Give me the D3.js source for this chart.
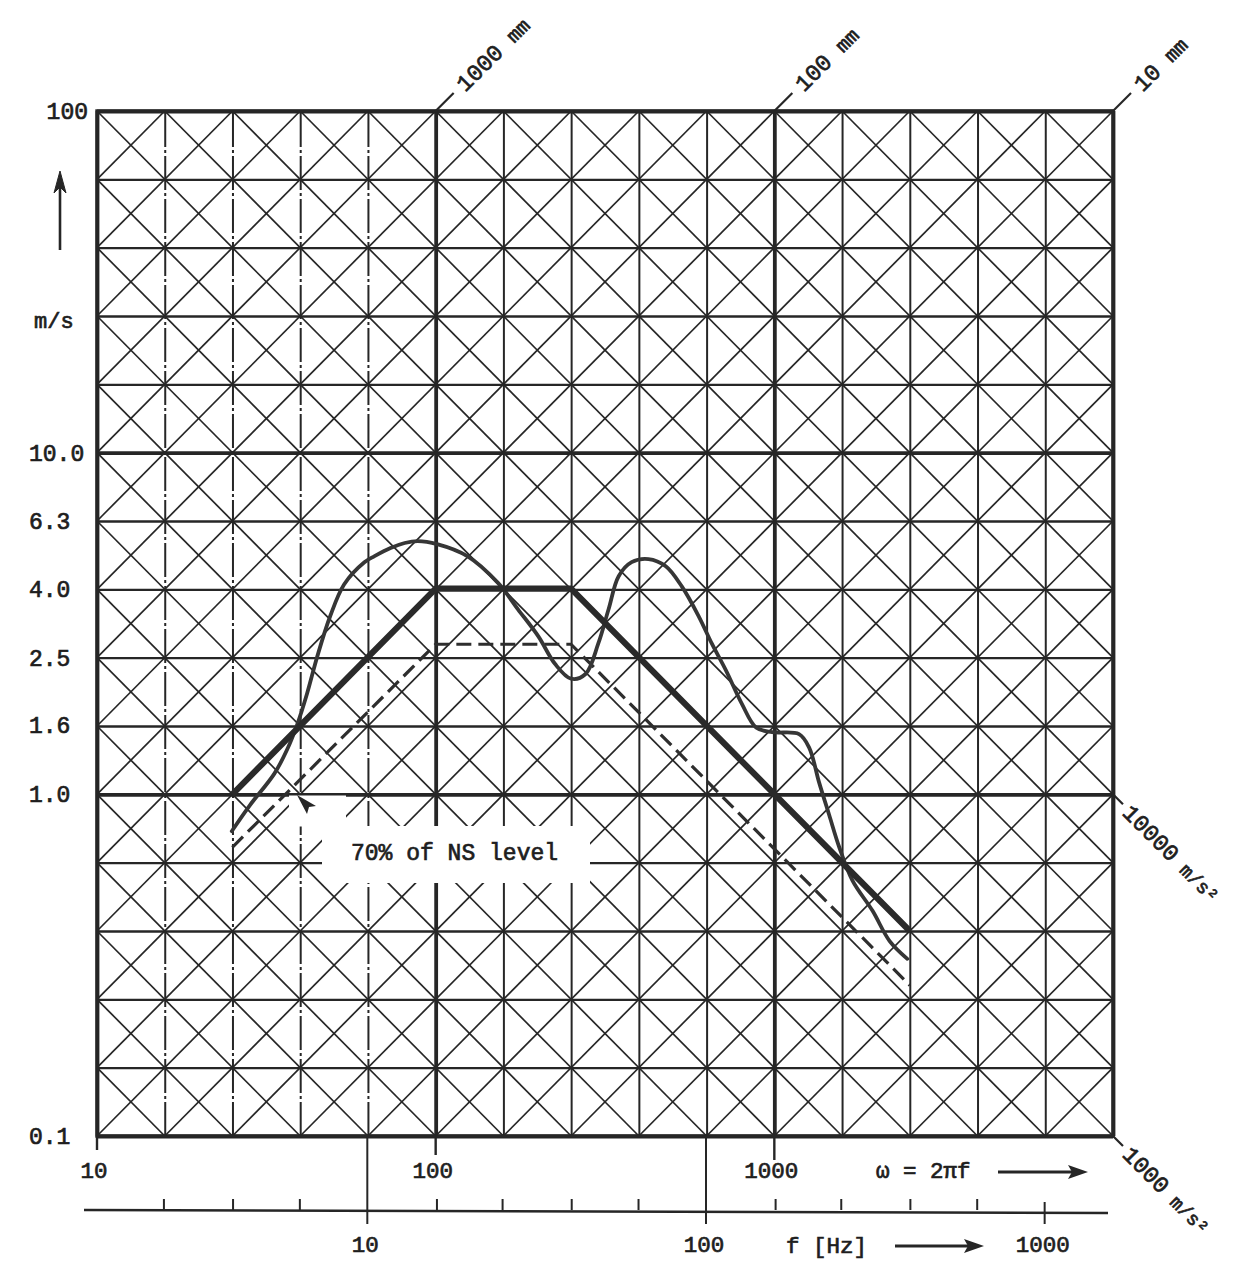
<!DOCTYPE html>
<html><head><meta charset="utf-8">
<script src="https://cdn.jsdelivr.net/npm/d3@7"></script>
<style>
body{margin:0;background:#fff}
svg{display:block}
text{font-family:"Liberation Mono","DejaVu Sans Mono",monospace;fill:#1e1e1e;stroke:#1e1e1e;stroke-width:0.7px}
</style>
</head><body>
<svg id="c" width="1251" height="1287"></svg>
<script>
// ---------------- data ----------------
const velocityTicks = [100, 10, 6.3, 4.0, 2.5, 1.6, 1.0, 0.1];
const velocityTickLabels = ["100", "10.0", "6.3", "4.0", "2.5", "1.6", "1.0", "0.1"];
const omegaTicks = [10, 100, 1000];
const omegaTickLabels = ["10", "100", "1000"];
const freqTicks = [10, 100, 1000];
const freqTickLabels = ["10", "100", "1000"];
const freqMinorTicks = [2.5, 4, 6.3, 16, 25, 40, 63, 160, 250, 400, 630];
const displacementValuesM = [1, 0.1, 0.01];
const displacementLabels = ["1000", "100", "10"];
const accelerationValues = [10000, 1000];
const accelerationLabels = ["10000", "1000"];

// NS level envelope (thick solid)
const nsOmega = [25.1, 100, 251, 2512];
const nsVelocity = [1.0, 4.0, 4.0, 0.398];
// 70% of NS level (dashed)
const ns70Omega = [25.1, 100, 251, 2512];
const ns70Velocity = [0.70, 2.75, 2.75, 0.276];
// response spectrum (thin solid)
const specOmega = [25.0, 28.3, 33.4, 36.4, 39.0, 41.7, 44.7, 48.8, 53.7, 61.6, 66.0, 73.6, 81.0, 88.5, 101, 124, 153, 175, 201, 225, 251, 277, 302, 324, 347, 379, 425, 478, 533, 598, 654, 719, 802, 883, 985, 1183, 1267, 1357, 1452, 1555, 1700, 1950, 2190, 2470];
const specVelocity = [0.78, 0.93, 1.15, 1.35, 1.60, 1.97, 2.53, 3.32, 4.12, 4.78, 4.98, 5.26, 5.44, 5.51, 5.40, 4.98, 4.15, 3.48, 2.90, 2.41, 2.18, 2.25, 2.76, 3.48, 4.35, 4.78, 4.88, 4.65, 4.06, 3.32, 2.76, 2.31, 1.84, 1.57, 1.52, 1.50, 1.37, 1.08, 0.87, 0.70, 0.56, 0.456, 0.372, 0.33];

// ---------------- setup ----------------
const svg = d3.select("#c");
const ink = "#262626";
const W0 = 10, W1 = 10000, V0 = 0.1, V1 = 100;
const x = d3.scaleLog().domain([W0, W1]).range([97, 1113]);
const y = d3.scaleLog().domain([V0, V1]).range([1136, 111]);
const fx = d3.scaleLog().domain([W0 / (2 * Math.PI), W1 / (2 * Math.PI)]).range(x.range());
const L = x(W0), R = x(W1), T = y(V1), B = y(V0);
const isDecade = d => Math.abs(Math.log10(d) - Math.round(Math.log10(d))) < 1e-6;

// grid step 0.2 decade
const gridOmega = d3.range(0, 16).map(k => Math.pow(10, 1 + k / 5));
const gridVel = d3.range(0, 16).map(k => Math.pow(10, -1 + k / 5));

const grid = svg.append("g");

// diagonal families (constant displacement / constant acceleration)
const diag = grid.append("g").attr("stroke", ink).attr("stroke-width", 1.7).attr("fill", "none");
const lw0 = Math.log10(W0), lw1 = Math.log10(W1), lv0 = Math.log10(V0), lv1 = Math.log10(V1);
for (let m = 0; m <= 30; m++) {
  const c = -5 + m * 0.2;
  const a = Math.max(lw0, lv0 - c), b = Math.min(lw1, lv1 - c);
  if (b - a > 1e-6) {
    diag.append("line")
      .attr("x1", x(Math.pow(10, a))).attr("y1", y(Math.pow(10, a + c)))
      .attr("x2", x(Math.pow(10, b))).attr("y2", y(Math.pow(10, b + c)));
  }
}
for (let m = 0; m <= 30; m++) {
  const c = 0 + m * 0.2;
  const a = Math.max(lw0, c - lv1), b = Math.min(lw1, c - lv0);
  if (b - a > 1e-6) {
    diag.append("line")
      .attr("x1", x(Math.pow(10, a))).attr("y1", y(Math.pow(10, c - a)))
      .attr("x2", x(Math.pow(10, b))).attr("y2", y(Math.pow(10, c - b)));
  }
}

// vertical grid via axis
const gxv = grid.append("g").attr("transform", `translate(0,${B})`)
  .call(d3.axisBottom(x).tickValues(gridOmega).tickSize(-(B - T)).tickFormat(""));
gxv.select(".domain").remove();
gxv.selectAll(".tick line").attr("stroke", ink)
  .attr("stroke-width", d => isDecade(d) ? 3.8 : 2.0)
  .attr("stroke-dasharray", d => (d > 12 && d < 70) ? "34,3,3,3" : null);

// horizontal grid via axis
const gyh = grid.append("g").attr("transform", `translate(${L},0)`)
  .call(d3.axisLeft(y).tickValues(gridVel).tickSize(-(R - L)).tickFormat(""));
gyh.select(".domain").remove();
gyh.selectAll(".tick line").attr("stroke", ink)
  .attr("stroke-width", d => isDecade(d) ? 3.8 : 2.4);

// border
grid.append("rect").attr("x", L).attr("y", T).attr("width", R - L).attr("height", B - T)
  .attr("fill", "none").attr("stroke", ink).attr("stroke-width", 3.4);

// ---------------- axes outside ----------------
const ax = svg.append("g").attr("stroke", ink);

svg.append("g").selectAll("text").data(velocityTicks).join("text")
  .attr("x", (d, i) => i === 0 ? 88 : 29)
  .attr("y", d => y(d))
  .attr("dy", "0.35em")
  .attr("text-anchor", (d, i) => i === 0 ? "end" : "start")
  .attr("font-size", 23)
  .text((d, i) => velocityTickLabels[i]);

svg.append("text").attr("x", 34).attr("y", 328).attr("font-size", 22).text("m/s");
ax.append("line").attr("x1", 60).attr("x2", 60).attr("y1", 250).attr("y2", 186).attr("stroke-width", 2.6);
svg.append("path").attr("d", "M60,171 L54,193 L60,187 L66,193 Z").attr("fill", ink).attr("stroke", ink).attr("stroke-width", 1);

const omegaTickLen = [14, 19, 24];
omegaTicks.forEach((d, i) => {
  ax.append("line").attr("x1", x(d)).attr("x2", x(d)).attr("y1", B).attr("y2", B + omegaTickLen[i]).attr("stroke-width", 2.4);
});
svg.append("g").selectAll("text").data(omegaTicks).join("text")
  .attr("x", d => x(d) - 3).attr("y", 1178).attr("text-anchor", "middle").attr("font-size", 22.5)
  .text((d, i) => omegaTickLabels[i]);

svg.append("text").attr("x", 876).attr("y", 1178).attr("font-size", 22.5).text("ω = 2πf");
ax.append("line").attr("x1", 998).attr("x2", 1074).attr("y1", 1172).attr("y2", 1172).attr("stroke-width", 3);
svg.append("path").attr("d", "M1088,1172 L1068,1165 L1072,1172 L1068,1179 Z").attr("fill", ink);

const fAxisY = 1210;
ax.append("line").attr("x1", 84).attr("x2", 1108).attr("y1", fAxisY).attr("y2", fAxisY + 3).attr("stroke-width", 2.6);
const gf = svg.append("g").attr("transform", `translate(0,${fAxisY})`)
  .call(d3.axisBottom(fx).tickValues(freqMinorTicks).tickSizeInner(-11).tickSizeOuter(0).tickFormat(""));
gf.select(".domain").remove();
gf.selectAll(".tick line").attr("stroke", ink).attr("stroke-width", 2);
freqTicks.forEach((d, i) => {
  const y1 = i < 2 ? B : fAxisY - 8;
  ax.append("line").attr("x1", fx(d)).attr("x2", fx(d)).attr("y1", y1).attr("y2", fAxisY + 14).attr("stroke-width", 2);
});
svg.append("g").selectAll("text").data(freqTicks).join("text")
  .attr("x", d => fx(d) - 2).attr("y", 1252).attr("text-anchor", "middle").attr("font-size", 22.5)
  .text((d, i) => freqTickLabels[i]);
svg.append("text").attr("x", 786).attr("y", 1253).attr("font-size", 22.5).text("f [Hz]");
ax.append("line").attr("x1", 895).attr("x2", 970).attr("y1", 1246).attr("y2", 1246).attr("stroke-width", 3);
svg.append("path").attr("d", "M984,1246 L964,1239 L968,1246 L964,1253 Z").attr("fill", ink);

// displacement labels (top, up-right diagonals)
displacementValuesM.forEach((d, i) => {
  const cx = x(V1 / d), cy = y(V1);
  ax.append("line").attr("x1", cx).attr("y1", cy).attr("x2", cx + 18).attr("y2", cy - 18).attr("stroke-width", 2.2);
  const t = svg.append("text").attr("transform", `translate(${cx + 24},${cy - 24}) rotate(-45)`)
    .attr("dy", "0.35em").attr("font-size", 23);
  t.append("tspan").text(displacementLabels[i]);
  t.append("tspan").attr("font-size", 20).attr("dx", 14).text("mm");
});

// acceleration labels (right, down-right diagonals)
accelerationValues.forEach((a, i) => {
  const cx = x(W1), cy = y(a / W1);
  ax.append("line").attr("x1", cx).attr("y1", cy).attr("x2", cx + 10).attr("y2", cy + 10).attr("stroke-width", 2.2);
  const t = svg.append("text").attr("transform", `translate(${cx + 14},${cy + 14}) rotate(45)`)
    .attr("dy", "0.35em").attr("font-size", 23);
  t.append("tspan").text(accelerationLabels[i]);
  t.append("tspan").attr("font-size", 19).attr("dx", 12).text("m/s²");
});

// ---------------- label box ----------------
const box = svg.append("g").attr("fill", "#fff");
box.append("rect").attr("x", 289).attr("y", 795.5).attr("width", 57).attr("height", 31);
box.append("rect").attr("x", 322).attr("y", 826).attr("width", 268).attr("height", 57);

// ---------------- curves ----------------
const curves = svg.append("g").attr("fill", "none");
const lineFn = d3.line().x(d => x(d[0])).y(d => y(d[1]));

curves.append("path")
  .attr("d", lineFn(d3.zip(ns70Omega, ns70Velocity)))
  .attr("stroke", "#2e2e2e").attr("stroke-width", 3.2).attr("stroke-dasharray", "15,7");

curves.append("path")
  .attr("d", d3.line().x(d => x(d[0])).y(d => y(d[1])).curve(d3.curveCatmullRom.alpha(0.5))(d3.zip(specOmega, specVelocity)))
  .attr("stroke", "#363636").attr("stroke-width", 3.8).attr("stroke-linejoin", "round").attr("stroke-linecap", "round");

curves.append("path")
  .attr("d", lineFn(d3.zip(nsOmega, nsVelocity)))
  .attr("stroke", "#2a2a2a").attr("stroke-width", 6.2).attr("stroke-linejoin", "round");

// annotation
svg.append("text").attr("x", 351).attr("y", 860).attr("font-size", 23).text("70% of NS level");
ax.append("line").attr("x1", 343).attr("y1", 844).attr("x2", 306).attr("y2", 804).attr("stroke-width", 3);
svg.append("path").attr("d", "M297,795 L316,806 L309,807 L307,814 Z").attr("fill", ink);
</script>
</body></html>
